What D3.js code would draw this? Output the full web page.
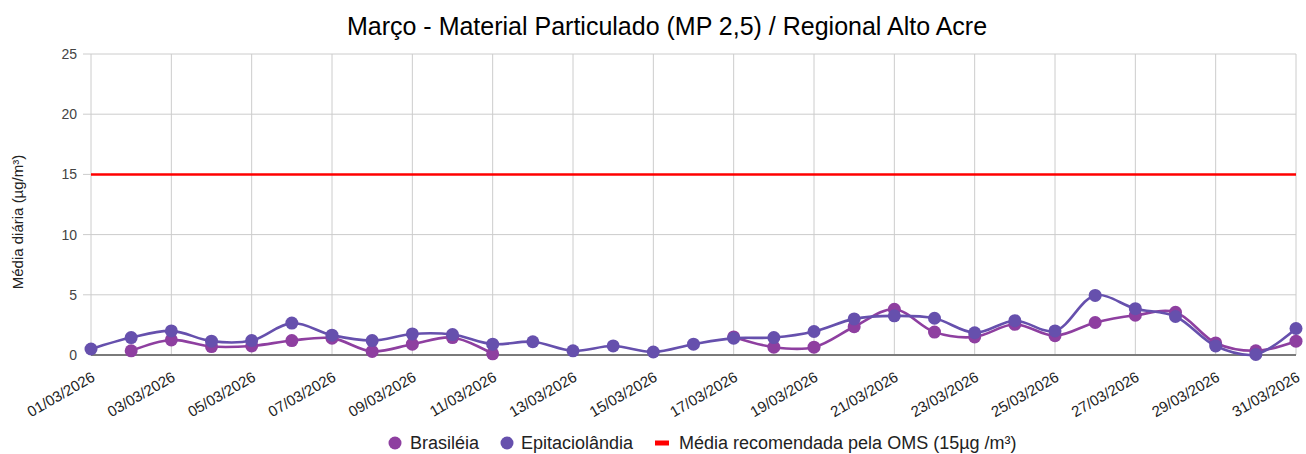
<!DOCTYPE html>
<html>
<head>
<meta charset="utf-8">
<script src="https://cdn.jsdelivr.net/npm/d3@7"></script>
<style>
  html, body { margin: 0; padding: 0; background: #fff; }
  svg { display: block; font-family: "Liberation Sans", Arial, sans-serif; }
</style>
</head>
<body>
<svg id="chart" width="1306" height="454"></svg>
<script>
const dates = ["01/03/2026","02/03/2026","03/03/2026","04/03/2026","05/03/2026","06/03/2026","07/03/2026","08/03/2026","09/03/2026","10/03/2026","11/03/2026","12/03/2026","13/03/2026","14/03/2026","15/03/2026","16/03/2026","17/03/2026","18/03/2026","19/03/2026","20/03/2026","21/03/2026","22/03/2026","23/03/2026","24/03/2026","25/03/2026","26/03/2026","27/03/2026","28/03/2026","29/03/2026","30/03/2026","31/03/2026"];
const brasileia = [null,0.35,1.25,0.7,0.75,1.2,1.4,0.3,0.9,1.45,0.1,null,null,null,null,null,1.5,0.65,0.65,2.35,3.8,1.9,1.5,2.55,1.6,2.7,3.3,3.55,1.0,0.35,1.15];
const epitaciolandia = [0.5,1.45,2.0,1.15,1.2,2.65,1.65,1.2,1.75,1.7,0.9,1.1,0.35,0.75,0.25,0.9,1.4,1.45,1.95,3.0,3.25,3.05,1.85,2.85,2.0,4.95,3.85,3.2,0.75,0.05,2.2];
const omsLimit = 15;
const yTicks = [0,5,10,15,20,25];
const xTickLabels = dates.filter((d,i) => i % 2 === 0);
const seriesNames = ["Brasiléia","Epitaciolândia","Média recomendada pela OMS (15µg /m³)"];
const colors = {bras:"#8e3fa0", epi:"#6650ad", oms:"#ff0000"};

const svg = d3.select("#chart");
const margin = {left:91, right:10, top:54, bottom:99};
const W = 1306, H = 454;

const x = d3.scalePoint().domain(dates).range([margin.left, W - margin.right]);
const y = d3.scaleLinear().domain([0,25]).range([H - margin.bottom, margin.top]);

// title
svg.append("text").attr("x", 667).attr("y", 35).attr("text-anchor","middle")
  .attr("font-size", 25).attr("fill","#000").text("Março - Material Particulado (MP 2,5) / Regional Alto Acre");

// horizontal gridlines
svg.append("g").selectAll("line").data(yTicks.filter(t => t>0)).join("line")
  .attr("x1", margin.left - 8).attr("x2", W - margin.right)
  .attr("y1", d => y(d)).attr("y2", d => y(d))
  .attr("stroke","#cccccc").attr("stroke-width",1);

// vertical gridlines
svg.append("g").selectAll("line").data(xTickLabels).join("line")
  .attr("x1", d => x(d)).attr("x2", d => x(d))
  .attr("y1", y(25)).attr("y2", y(0))
  .attr("stroke","#cccccc").attr("stroke-width",1);

// y tick labels
svg.append("g").selectAll("text").data(yTicks).join("text")
  .attr("x", 77).attr("y", d => y(d) + 5).attr("text-anchor","end")
  .attr("font-size", 14).attr("fill","#444").text(d => d);

// y axis title
svg.append("text").attr("transform", `translate(23, 222) rotate(-90)`)
  .attr("text-anchor","middle").attr("font-size", 15).attr("fill","#222")
  .text("Média diária (µg/m³)");

// baseline
svg.append("line").attr("x1", margin.left).attr("x2", W - margin.right)
  .attr("y1", y(0)).attr("y2", y(0)).attr("stroke","#7a7a7a").attr("stroke-width",2);

// x labels
svg.append("g").selectAll("text").data(xTickLabels).join("text")
  .attr("transform", d => `translate(${x(d)+5}, ${y(0)+25}) rotate(-30)`)
  .attr("text-anchor","end").attr("font-size", 15).attr("fill","#222").text(d => d);

// OMS line
const lineOms = d3.line().x(d => x(d)).y(() => y(omsLimit));
svg.append("path").datum(dates).attr("d", lineOms)
  .attr("fill","none").attr("stroke", colors.oms).attr("stroke-width", 2.5);

// series
function drawSeries(vals, color) {
  const data = dates.map((d,i) => ({d, v: vals[i]}));
  const line = d3.line().defined(p => p.v !== null)
    .x(p => x(p.d)).y(p => y(p.v)).curve(d3.curveCatmullRom.alpha(0.5));
  svg.append("path").datum(data).attr("d", line)
    .attr("fill","none").attr("stroke", color).attr("stroke-width", 2.6);
  svg.append("g").selectAll("circle").data(data.filter(p => p.v !== null)).join("circle")
    .attr("cx", p => x(p.d)).attr("cy", p => y(p.v)).attr("r", 6.5).attr("fill", color);
}
drawSeries(brasileia, colors.bras);
drawSeries(epitaciolandia, colors.epi);

// legend
const ly = 443;
const leg = svg.append("g");
leg.append("circle").attr("cx", 395).attr("cy", ly).attr("r", 6.5).attr("fill", colors.bras);
leg.append("text").attr("x", 410).attr("y", ly + 6).attr("font-size", 18).attr("fill","#222").text(seriesNames[0]);
leg.append("circle").attr("cx", 507).attr("cy", ly).attr("r", 6.5).attr("fill", colors.epi);
leg.append("text").attr("x", 521).attr("y", ly + 6).attr("font-size", 18).attr("fill","#222").text(seriesNames[1]);
leg.append("rect").attr("x", 655).attr("y", ly - 2.5).attr("width", 14).attr("height", 5).attr("fill", colors.oms);
leg.append("text").attr("x", 679).attr("y", ly + 6).attr("font-size", 18).attr("fill","#222").text(seriesNames[2]);
</script>
</body>
</html>
